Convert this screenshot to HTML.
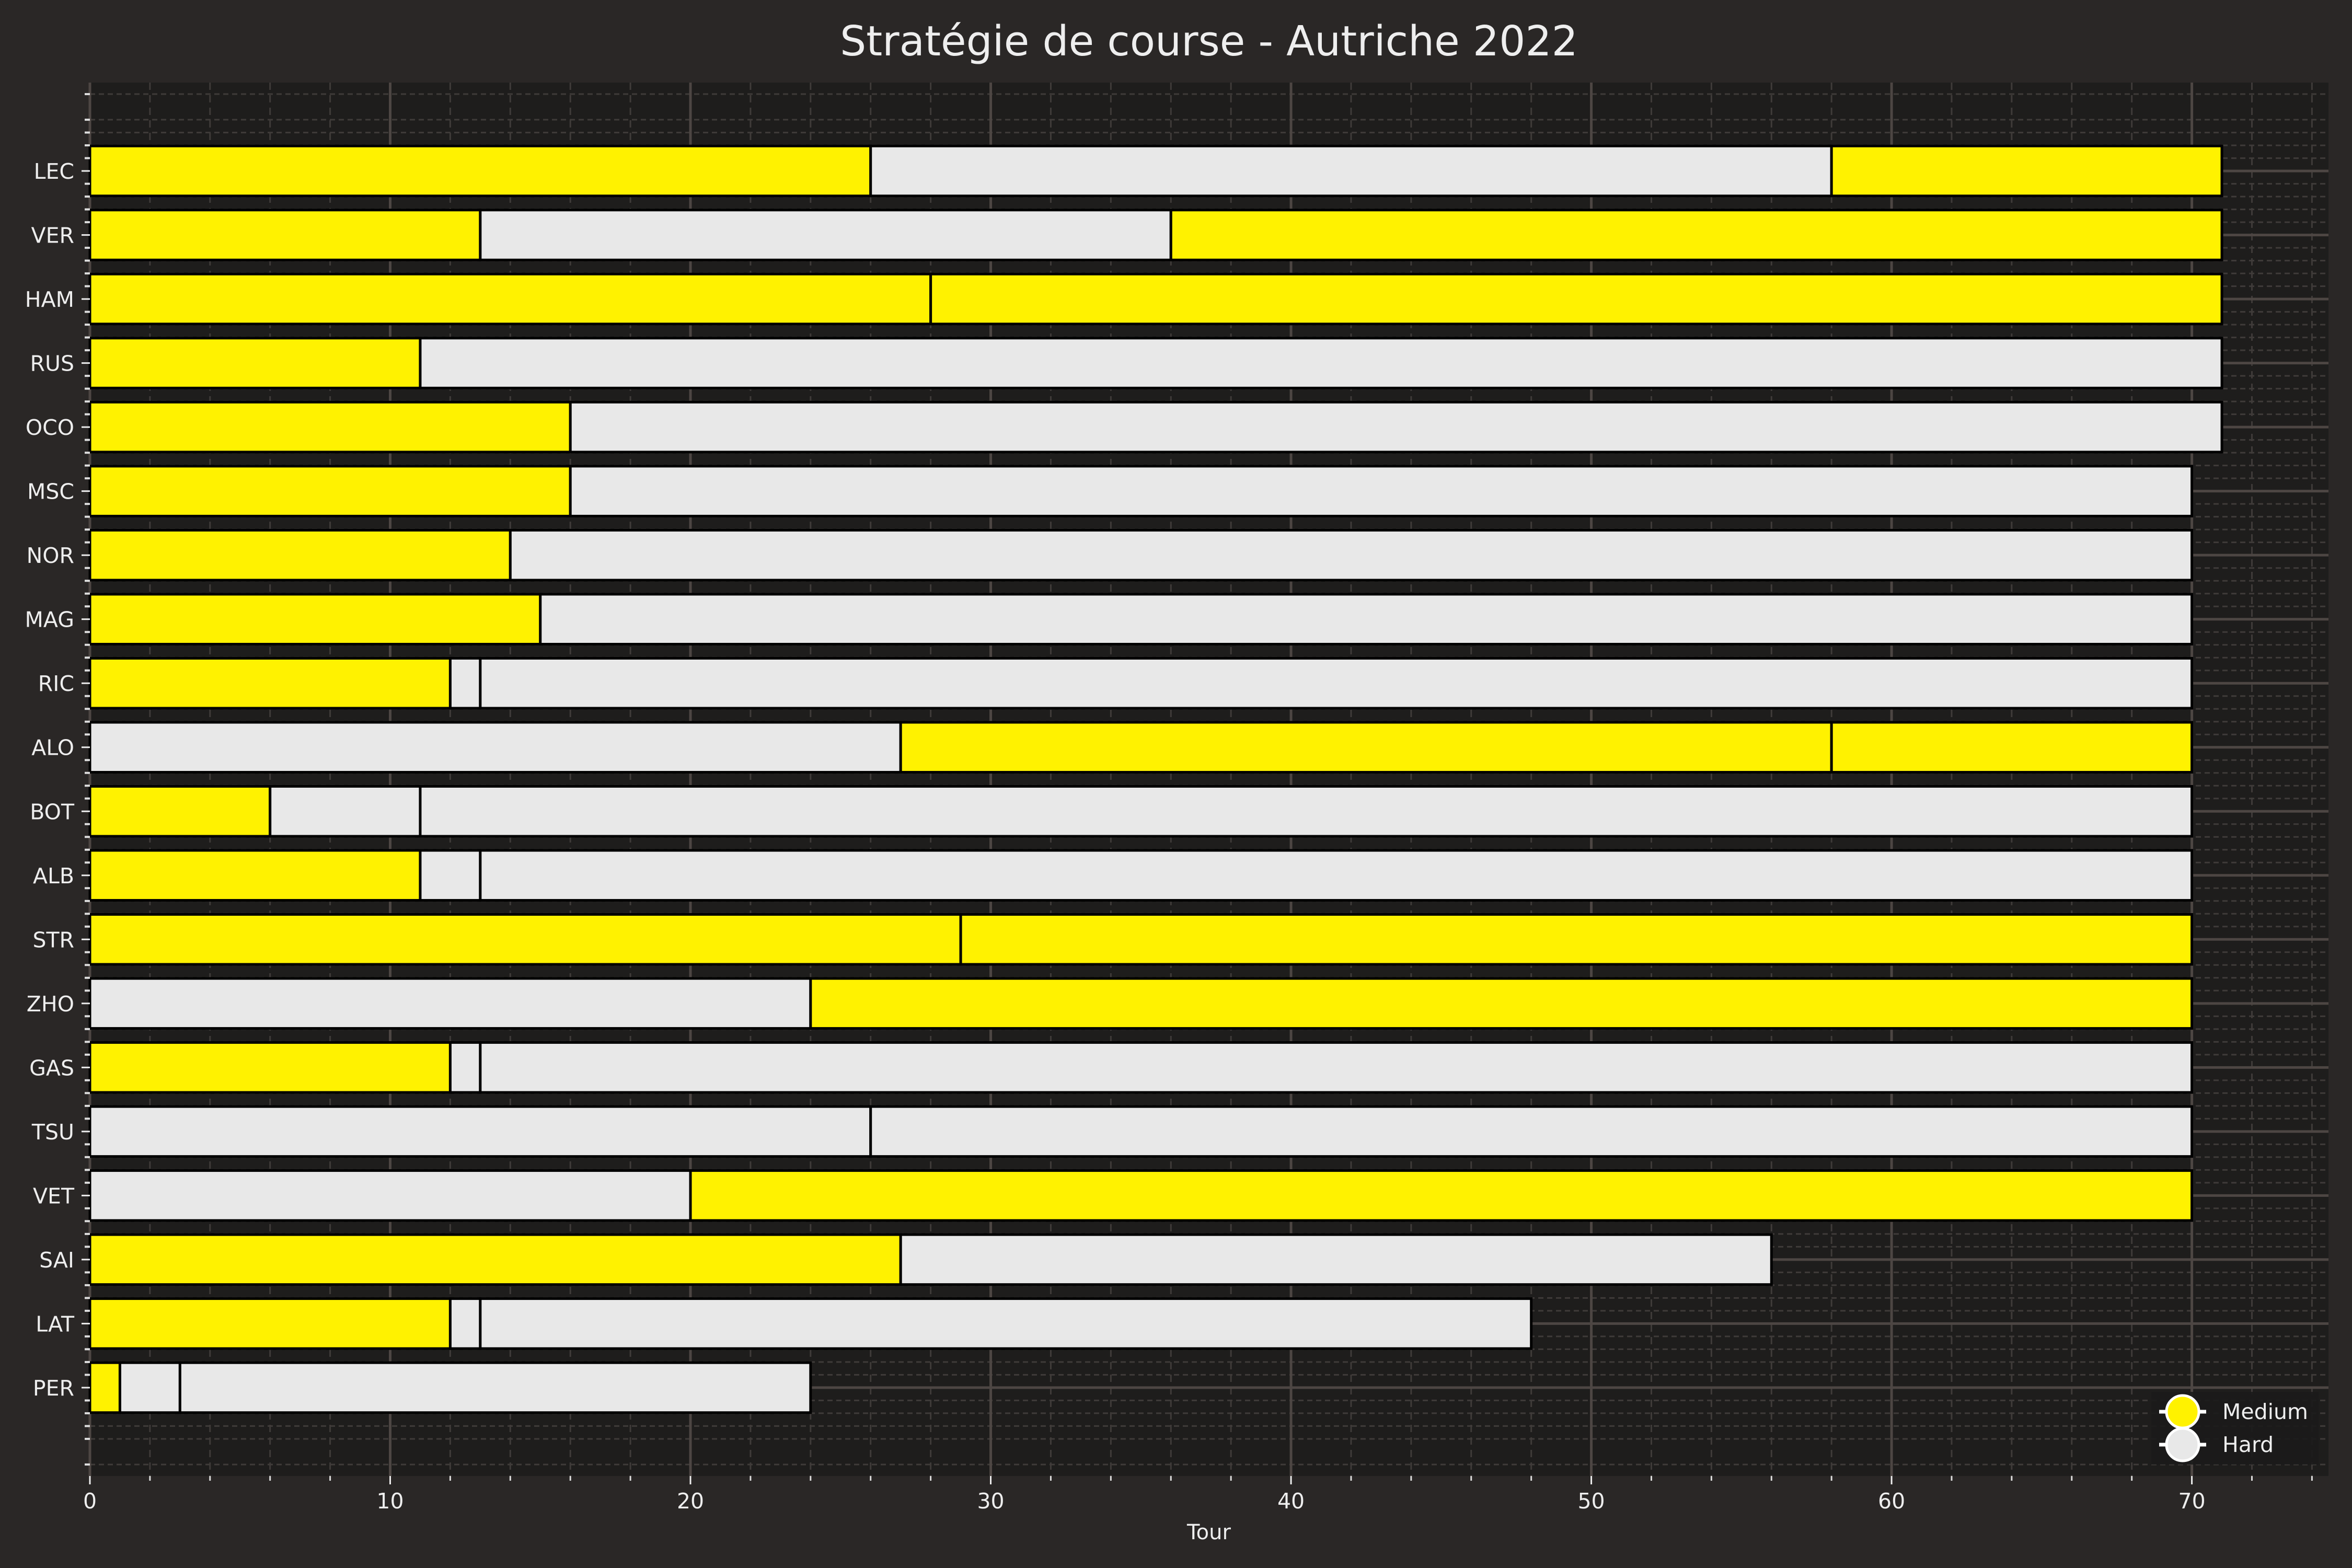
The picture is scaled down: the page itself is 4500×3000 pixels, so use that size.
<!DOCTYPE html>
<html><head><meta charset="utf-8"><style>
html,body{margin:0;padding:0;background:#2a2726;}
svg{display:block;font-family:"DejaVu Sans","Liberation Sans",sans-serif;}
</style></head><body>
<svg id="chart" width="4500" height="3000" viewBox="0 0 4500 3000" xmlns="http://www.w3.org/2000/svg">
<rect x="0" y="0" width="4500" height="3000" fill="#2a2726"/>
<text x="2313" y="106" font-size="79" fill="#eeeeee" text-anchor="middle">Stratégie de course - Autriche 2022</text>
<rect x="172" y="158" width="4283" height="2666" fill="#1e1d1c"/>
<g id="grid"></g><g id="bars"></g><g id="axes"></g>
<text x="2313" y="2945" font-size="40" fill="#eeeeee" text-anchor="middle">Tour</text>
<g>
<rect x="4116" y="2663" width="320" height="139" fill="#1b1b1b" opacity="0.9"/>
<g>
<line x1="4131" y1="2701" x2="4221" y2="2701" stroke="#fff" stroke-width="7"/>
<ellipse cx="4176" cy="2701" rx="31" ry="31" fill="#fff200" stroke="#fff" stroke-width="5"/>
<text x="4252" y="2715" font-size="41" fill="#eeeeee">Medium</text></g>
<g>
<line x1="4131" y1="2764" x2="4221" y2="2764" stroke="#fff" stroke-width="7"/>
<ellipse cx="4176" cy="2764" rx="31" ry="31" fill="#e8e8e8" stroke="#fff" stroke-width="5"/>
<text x="4252" y="2778" font-size="41" fill="#eeeeee">Hard</text></g>
</g>
</svg>
<script>
const drivers = ["LEC","VER","HAM","RUS","OCO","MSC","NOR","MAG","RIC","ALO","BOT","ALB","STR","ZHO","GAS","TSU","VET","SAI","LAT","PER"];
const stintEnds = [
 [26,58,71],[13,36,71],[28,71],[11,71],[16,71],[16,70],[14,70],[15,70],[12,13,70],[27,58,70],
 [6,11,70],[11,13,70],[29,70],[24,70],[12,13,70],[26,70],[20,70],[27,56],[12,13,48],[1,3,24]
];
const stintCompounds = [
 ["M","H","M"],["M","H","M"],["M","M"],["M","H"],["M","H"],["M","H"],["M","H"],["M","H"],["M","H","H"],["H","M","M"],
 ["M","H","H"],["M","H","H"],["M","M"],["H","M"],["M","H","H"],["H","H"],["H","M"],["M","H"],["M","H","H"],["M","H","H"]
];
const xTicks = [0,10,20,30,40,50,60,70];
const compoundColors = {M:"#fff200", H:"#e8e8e8"};

const NS="http://www.w3.org/2000/svg";
const L=172,R=4455,T=158,B=2824, XMAX=74.55, YMIN=-1.38, YMAX=drivers.length-1+1.38;
const xs=v=>L+(v/XMAX)*(R-L);
const ys=v=>B-(v-YMIN)/(YMAX-YMIN)*(B-T);
function mk(tag,attrs,parent){const e=document.createElementNS(NS,tag);for(const k in attrs)e.setAttribute(k,attrs[k]);parent.appendChild(e);return e;}
const grid=document.getElementById('grid'),bars=document.getElementById('bars'),axes=document.getElementById('axes');

for(let v=0;v<=XMAX;v+=2){ if(v%10===0)continue;
 const l=mk('line',{x1:xs(v),x2:xs(v),y1:T,y2:B,stroke:'#3f3b39','stroke-width':3,'stroke-dasharray':'14 10'},grid);
 
 
 const t=mk('line',{x1:xs(v),x2:xs(v),y1:B,y2:B+9,stroke:'#dddddd','stroke-width':3},axes);
 
 
}
for(let i=Math.ceil(YMIN*5);i<=Math.floor(YMAX*5);i++){ if(i%5===0)continue; const v=i/5;
 const l=mk('line',{x1:L,x2:R,y1:ys(v),y2:ys(v),stroke:'#3f3b39','stroke-width':3,'stroke-dasharray':'10 7'},grid);
 
 
 const t=mk('line',{x1:L-10,x2:L,y1:ys(v),y2:ys(v),stroke:'#dddddd','stroke-width':4},axes);
 
 
}
xTicks.forEach(v=>{
 const l=mk('line',{x1:xs(v),x2:xs(v),y1:T,y2:B,stroke:'#4d4643','stroke-width':5},grid);
 
 
 const t=mk('line',{x1:xs(v),x2:xs(v),y1:B,y2:B+16,stroke:'#eeeeee','stroke-width':3},axes);
 
 
 const tx=mk('text',{x:xs(v),y:B+62,'font-size':41,fill:'#eeeeee','text-anchor':'middle'},axes);
 tx.textContent=v;
 
 
});
drivers.forEach((d,i)=>{
 const yv=drivers.length-1-i, cy=ys(yv);
 const l=mk('line',{x1:L,x2:R,y1:cy,y2:cy,stroke:'#4d4643','stroke-width':5},grid);
 
 
 const t=mk('line',{x1:L-16,x2:L,y1:cy,y2:cy,stroke:'#eeeeee','stroke-width':3},axes);
 
 
 const tx=mk('text',{x:L-30,y:cy+15,'font-size':41,fill:'#eeeeee','text-anchor':'end'},axes);
 tx.textContent=d;
 
 
 let start=0;
 stintEnds[i].forEach((end,k)=>{
  const h=0.78*(ys(0)-ys(1));
  const r=mk('rect',{x:xs(start),y:cy-h/2,width:xs(end)-xs(start),height:h,fill:compoundColors[stintCompounds[i][k]],stroke:'#000','stroke-width':5},bars);
  
  
  start=end;
 });
});
</script>
</body></html>
